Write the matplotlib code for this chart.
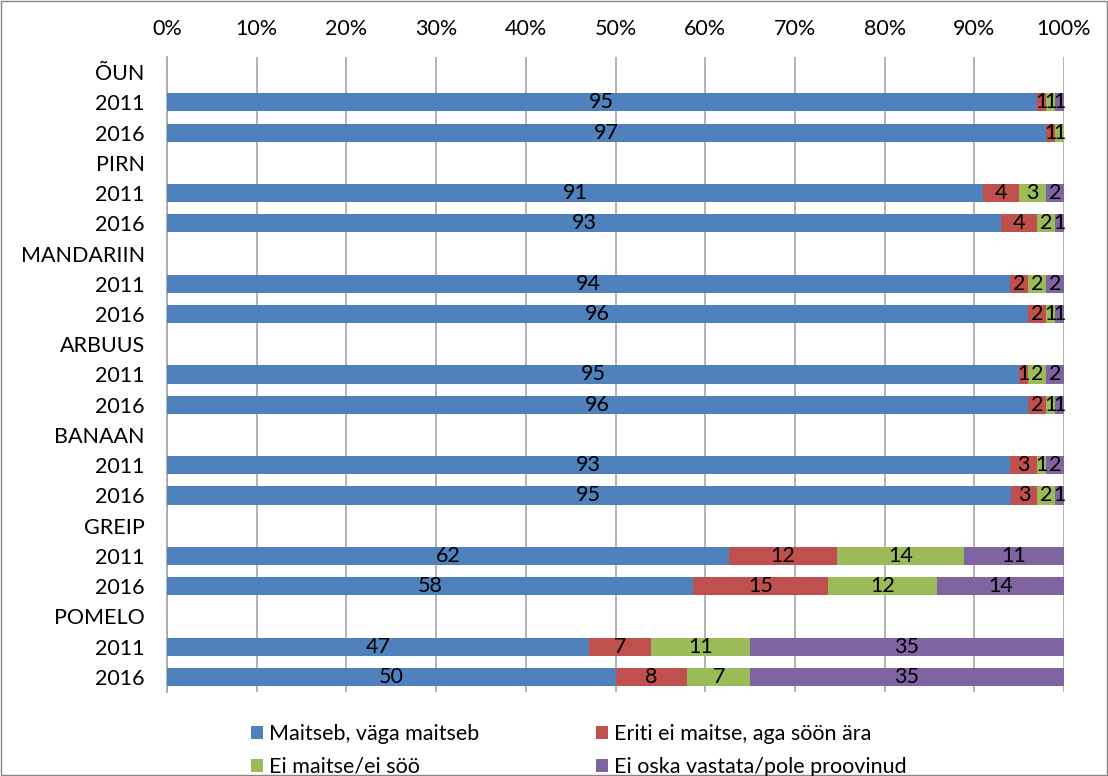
import numpy as np
import matplotlib
matplotlib.use("Agg")
import matplotlib.pyplot as plt
from matplotlib.patches import Patch

plt.rcParams['font.family'] = ['Lato', 'DejaVu Sans']

fruits = ['ÕUN', 'PIRN', 'MANDARIIN', 'ARBUUS', 'BANAAN', 'GREIP', 'POMELO']
years = ['2011', '2016']
series = ['Maitseb, väga maitseb', 'Eriti ei maitse, aga söön ära',
          'Ei maitse/ei söö', 'Ei oska vastata/pole proovinud']
colors = ['#4F81BD', '#C0504D', '#9BBB59', '#8064A2']

# rows: fruit 2011, fruit 2016 for each fruit
maitseb = [95, 97, 91, 93, 94, 96, 95, 96, 93, 95, 62, 58, 47, 50]
eriti = [1, 1, 4, 4, 2, 2, 1, 2, 3, 3, 12, 15, 7, 8]
ei_maitse = [1, 1, 3, 2, 2, 1, 2, 1, 1, 2, 14, 12, 11, 7]
ei_oska = [1, 0, 2, 1, 2, 1, 2, 1, 2, 1, 11, 14, 35, 35]

vals = np.array([maitseb, eriti, ei_maitse, ei_oska], dtype=float)
pct = vals / vals.sum(axis=0) * 100

# build row layout: header row then two year rows per fruit
labels = []
bar_rows = []
for i, f in enumerate(fruits):
    labels.append(f)
    for y in years:
        bar_rows.append(len(labels))
        labels.append(y)

fs = 15.5
fig = plt.figure(figsize=(11.08, 7.76), dpi=100)
ax = fig.add_axes([167 / 1108, 1 - 692 / 776, (1064 - 167) / 1108, (692 - 57) / 776])

left = np.zeros(len(bar_rows))
for k in range(4):
    ax.barh(bar_rows, pct[k], left=left, height=0.6, color=colors[k], zorder=3)
    for j, r in enumerate(bar_rows):
        if vals[k, j] > 0:
            ax.text(left[j] + pct[k, j] / 2, r, '%d' % vals[k, j], ha='center', va='center',
                    fontsize=fs, color='black', zorder=4)
    left += pct[k]

ax.set_ylim(len(labels) - 0.5, -0.5)
ax.set_yticks(range(len(labels)))
ax.set_yticklabels(labels, fontsize=fs)
ax.set_xlim(0, 100)
ax.set_xticks(np.arange(0, 101, 10))
ax.set_xticklabels(['%d%%' % v for v in range(0, 101, 10)], fontsize=fs)
ax.xaxis.tick_top()
ax.tick_params(axis='x', length=0, pad=13)
ax.tick_params(axis='y', length=0, pad=16)
ax.grid(axis='x', color='#A6A6A6', linewidth=1.2, zorder=0)
for s in ['top', 'right', 'bottom']:
    ax.spines[s].set_visible(False)
ax.spines['left'].set_color('#A6A6A6')
ax.spines['left'].set_linewidth(1.2)

# legend fills by column, so order handles to read row-wise
handles = [Patch(facecolor=c, label=s) for c, s in zip(colors, series)]
handles = [handles[0], handles[2], handles[1], handles[3]]
fig.legend(handles=handles, loc='upper left', bbox_to_anchor=(251 / 1108, 1 - 724 / 776), ncol=2,
           frameon=False, fontsize=fs, handlelength=0.55, handleheight=0.55,
           handletextpad=0.3, columnspacing=5.4, labelspacing=0.6,
           borderpad=0, borderaxespad=0)

fig.patches.append(plt.Rectangle((0.001, 0.001), 0.998, 0.998, transform=fig.transFigure,
                                 fill=False, edgecolor='#868686', linewidth=1))

fig.savefig('out.png', dpi=100)
